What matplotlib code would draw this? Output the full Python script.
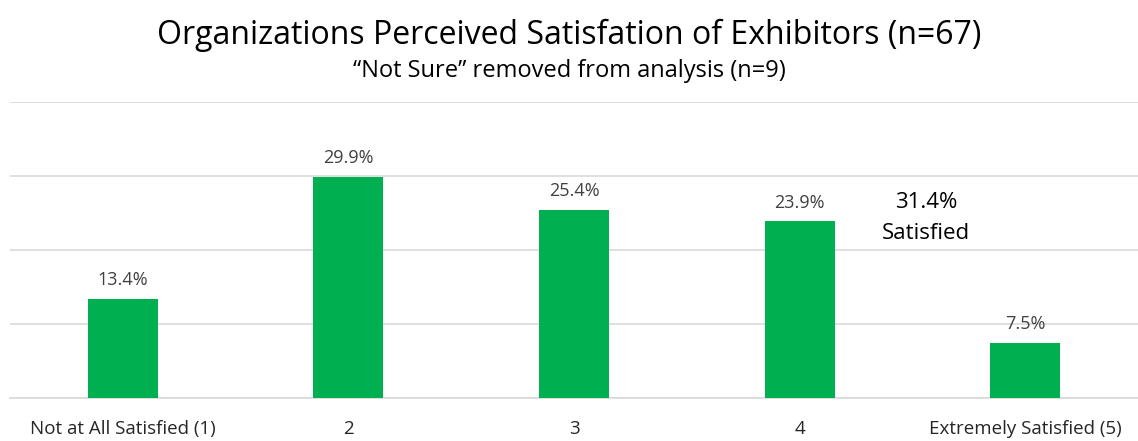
import matplotlib.pyplot as plt

categories = ['Not at All Satisfied (1)', '2', '3', '4', 'Extremely Satisfied (5)']
values = [13.4, 29.9, 25.4, 23.9, 7.5]
labels = ['13.4%', '29.9%', '25.4%', '23.9%', '7.5%']

plt.rcParams['font.family'] = ['Open Sans', 'DejaVu Sans']

fig = plt.figure(figsize=(11.38, 4.41), dpi=100)
ax = fig.add_axes([10 / 1138, 43 / 441, 1128 / 1138, 296 / 441])

x = range(len(categories))
ax.bar(x, values, width=0.31, color='#00B050', zorder=3)
for i, v in enumerate(values):
    ax.text(i, v + 1.3, labels[i], ha='center', va='bottom', fontsize=13, color='#404040')

ax.set_xlim(-0.5, 4.5)
ax.set_ylim(0, 40)
ax.set_yticks([0, 10, 20, 30, 40])
ax.yaxis.grid(True, color='#d9d9d9', linewidth=1.2, zorder=0)
ax.tick_params(axis='y', left=False, labelleft=False)
ax.tick_params(axis='x', length=0, labelsize=13.5, labelcolor='#262626', pad=16)
ax.set_xticks(list(x))
ax.set_xticklabels(categories)
for s in ['top', 'right', 'left']:
    ax.spines[s].set_visible(False)
ax.spines['bottom'].set_color('#d9d9d9')
ax.spines['bottom'].set_linewidth(1.2)

ax.text(3.56, 24.3, '31.4%\nSatisfied', ha='center', va='center', fontsize=16,
        linespacing=1.6, color='black')

fig.text(0.5, 1 - 35 / 441, 'Organizations Perceived Satisfation of Exhibitors (n=67)',
         ha='center', va='center', fontsize=23, color='black')
fig.text(0.5, 1 - 71 / 441, '\u201cNot Sure\u201d removed from analysis (n=9)',
         ha='center', va='center', fontsize=17, color='black')

fig.savefig('out.png', dpi=100)
